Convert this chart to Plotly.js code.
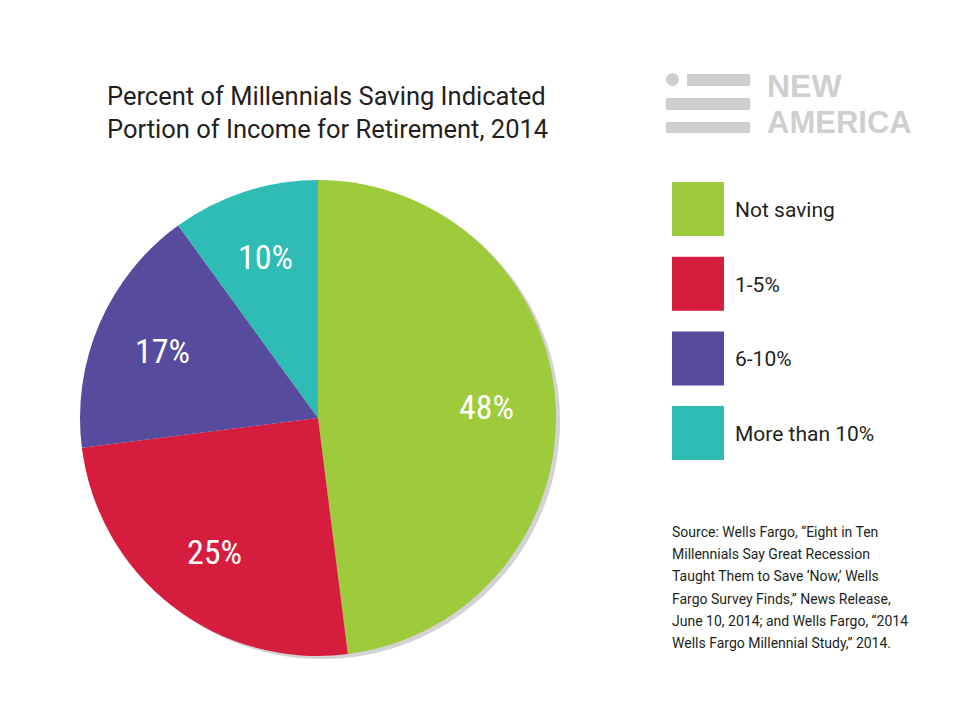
<!DOCTYPE html>
<html>
<head>
<meta charset="utf-8">
<script src="https://cdn.plot.ly/plotly-3.0.1.min.js"></script>
<style>
  html, body { margin: 0; padding: 0; background: #fff; }
  #chart { width: 960px; height: 723px; }
</style>
</head>
<body>
<div id="chart"></div>
<script>
// data
var categories = ['Not saving', '1-5%', '6-10%', 'More than 10%'];
var shares = [48, 25, 17, 10];
var colors = ['#9dcb3b', '#d61d3e', '#574b9e', '#2fbcb4'];

var sourceLines = [
    'Source: Wells Fargo, \u201cEight in Ten',
    'Millennials Say Great Recession',
    'Taught Them to Save \u2018Now,\u2019 Wells',
    'Fargo Survey Finds,\u201d News Release,',
    'June 10, 2014; and Wells Fargo, \u201c2014',
    'Wells Fargo Millennial Study,\u201d 2014.'
];

var W = 960, H = 723;
function px(x) { return x / W; }
function py(y) { return 1 - y / H; }

// pie placement (pixels)
var cx = 318, cy = 418, R = 238;

var shadow = {
    type: 'pie',
    values: [1],
    marker: { colors: ['#d3d3d6'] },
    textinfo: 'none',
    hoverinfo: 'skip',
    showlegend: false,
    sort: false,
    domain: { x: [px(cx - R + 4), px(cx + R + 4)], y: [py(cy + R + 3), py(cy - R + 3)] }
};

var pie = {
    type: 'pie',
    labels: categories,
    values: shares,
    marker: { colors: colors, line: { width: 0 } },
    sort: false,
    direction: 'clockwise',
    rotation: 0,
    textinfo: 'none',
    showlegend: false,
    domain: { x: [px(cx - R), px(cx + R)], y: [py(cy + R), py(cy - R)] }
};

var annotations = [];
var shapes = [];

// percent labels at the middle of each slice
var tot = 0, i;
for (i = 0; i < shares.length; i++) tot += shares[i];
var cum = 0;
for (i = 0; i < shares.length; i++) {
    var mid = (cum + shares[i] / 2) / tot * 2 * Math.PI;
    cum += shares[i];
    var rl = 0.71 * R;
    annotations.push({
        x: px(cx + rl * Math.sin(mid)), y: py(cy - rl * Math.cos(mid)),
        xref: 'paper', yref: 'paper', showarrow: false,
        xanchor: 'center', yanchor: 'middle',
        text: shares[i] + '%',
        font: { family: 'Roboto Condensed, sans-serif', size: 34, color: '#ffffff' }
    });
}

// legend: big squares + labels
for (i = 0; i < categories.length; i++) {
    var ytop = 182 + i * 74.7;
    shapes.push({
        type: 'rect', xref: 'paper', yref: 'paper',
        x0: px(672), x1: px(724), y0: py(ytop + 54), y1: py(ytop),
        fillcolor: colors[i], line: { width: 0 }
    });
    annotations.push({
        x: px(733), y: py(ytop + 28), xref: 'paper', yref: 'paper',
        xanchor: 'left', yanchor: 'middle', showarrow: false,
        text: categories[i],
        font: { family: 'Roboto, sans-serif', size: 21, color: '#231f20' }
    });
}

// title
annotations.push({
    x: px(105), y: py(79), xref: 'paper', yref: 'paper',
    xanchor: 'left', yanchor: 'top', align: 'left', showarrow: false,
    text: 'Percent of Millennials Saving Indicated<br>Portion of Income for Retirement, 2014',
    font: { family: 'Roboto, sans-serif', size: 25.5, color: '#231f20' }
});

// source note
for (i = 0; i < sourceLines.length; i++) {
    annotations.push({
        x: px(670), y: py(532 + i * 22.2), xref: 'paper', yref: 'paper',
        xanchor: 'left', yanchor: 'middle', showarrow: false,
        text: sourceLines[i],
        font: { family: 'Roboto, sans-serif', size: 14, color: '#231f20' }
    });
}

// New America logo
var logoGray = '#cfcfcf';
shapes.push({ type: 'circle', xref: 'paper', yref: 'paper',
    x0: px(666), x1: px(679), y0: py(86), y1: py(73), fillcolor: logoGray, line: { width: 0 } });
shapes.push({ type: 'rect', xref: 'paper', yref: 'paper',
    x0: px(687), x1: px(750), y0: py(86), y1: py(74), fillcolor: logoGray, line: { width: 0 } });
shapes.push({ type: 'rect', xref: 'paper', yref: 'paper',
    x0: px(666), x1: px(750), y0: py(110), y1: py(98), fillcolor: logoGray, line: { width: 0 } });
shapes.push({ type: 'rect', xref: 'paper', yref: 'paper',
    x0: px(666), x1: px(750), y0: py(133), y1: py(122), fillcolor: logoGray, line: { width: 0 } });
annotations.push({
    x: px(765), y: py(86), xref: 'paper', yref: 'paper',
    xanchor: 'left', yanchor: 'middle', showarrow: false,
    text: '<b>NEW</b>',
    font: { family: 'Liberation Sans, Arial, sans-serif', size: 32, color: logoGray }
});
annotations.push({
    x: px(765), y: py(122), xref: 'paper', yref: 'paper',
    xanchor: 'left', yanchor: 'middle', showarrow: false,
    text: '<b>AMERICA</b>',
    font: { family: 'Liberation Sans, Arial, sans-serif', size: 31, color: logoGray }
});

var layout = {
    width: W,
    height: H,
    margin: { l: 0, r: 0, t: 0, b: 0 },
    paper_bgcolor: '#ffffff',
    showlegend: false,
    annotations: annotations,
    shapes: shapes
};

Plotly.newPlot('chart', [shadow, pie], layout, { displayModeBar: false, staticPlot: true });
</script>
</body>
</html>
